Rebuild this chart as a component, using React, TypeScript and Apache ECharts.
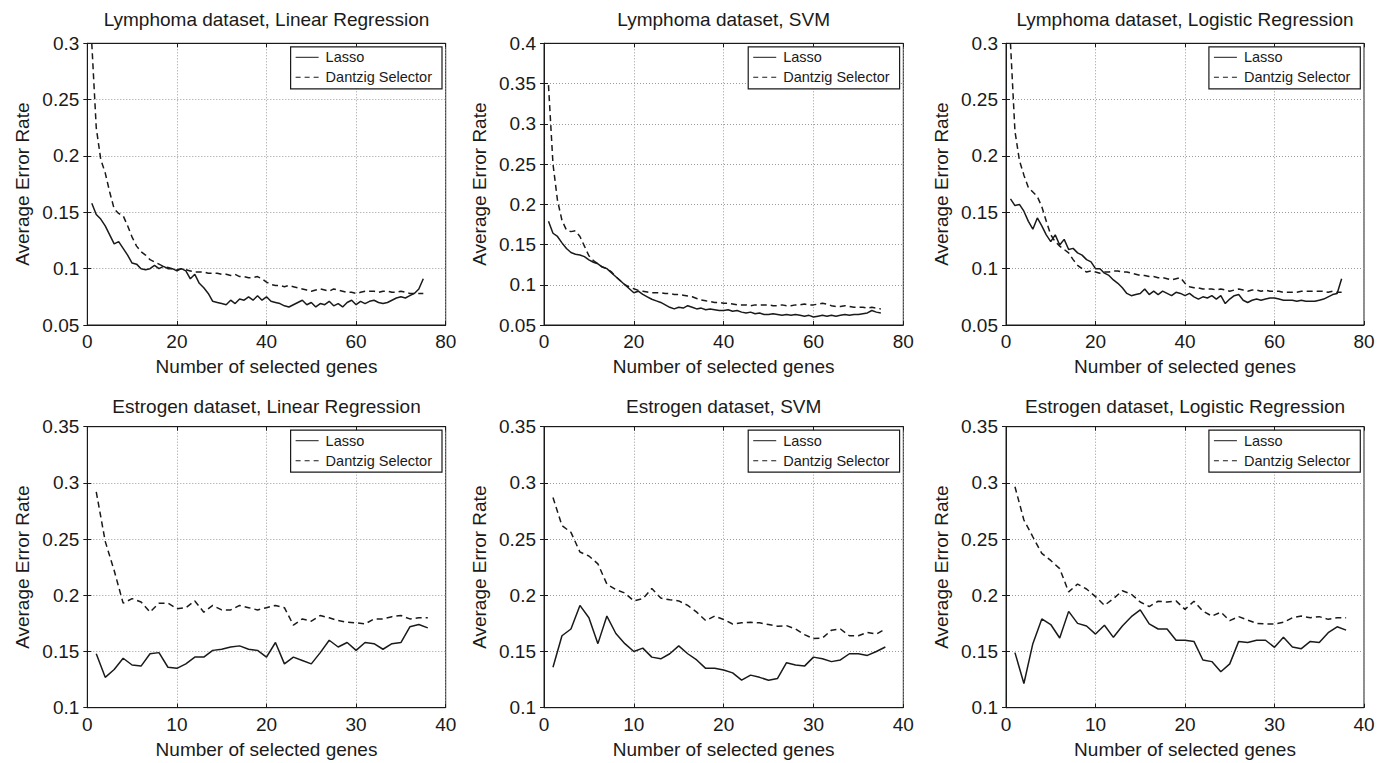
import React, { useEffect, useRef } from 'react';
import * as echarts from 'echarts';

// ---------- data ----------
const TOP_GENES = Array.from({ length: 75 }, (_, i) => i + 1);
const BOTTOM_GENES = Array.from({ length: 38 }, (_, i) => i + 1);

const LYM_LIN_LASSO = [
  0.158, 0.148, 0.144, 0.138, 0.13, 0.122, 0.124, 0.118, 0.112, 0.105,
  0.104, 0.1, 0.099, 0.1, 0.103, 0.1, 0.102, 0.1, 0.1, 0.098,
  0.1, 0.098, 0.091, 0.095, 0.087, 0.083, 0.078, 0.071, 0.07, 0.069,
  0.068, 0.072, 0.069, 0.073, 0.072, 0.075, 0.072, 0.076, 0.072, 0.075,
  0.071, 0.07, 0.069, 0.067, 0.066, 0.068, 0.07, 0.072, 0.068, 0.07,
  0.066, 0.069, 0.068, 0.071, 0.067, 0.069, 0.066, 0.07, 0.072, 0.068,
  0.071, 0.069, 0.071, 0.072, 0.07, 0.069, 0.07, 0.072, 0.074, 0.075,
  0.074, 0.076, 0.078, 0.082, 0.091,
];
const LYM_LIN_DANTZIG = [
  0.3, 0.225, 0.197, 0.185, 0.168, 0.153, 0.149, 0.147, 0.138, 0.128,
  0.12, 0.115, 0.112, 0.108, 0.106, 0.104, 0.102, 0.101, 0.1, 0.099,
  0.1, 0.099, 0.098, 0.097, 0.097, 0.097, 0.096, 0.096, 0.096, 0.095,
  0.095, 0.094, 0.095, 0.093, 0.093, 0.092, 0.092, 0.093, 0.091, 0.088,
  0.086, 0.085, 0.085, 0.084, 0.085, 0.084, 0.083, 0.082, 0.081, 0.08,
  0.081, 0.082, 0.081, 0.08, 0.082, 0.081, 0.08, 0.079, 0.079, 0.078,
  0.079, 0.08, 0.08, 0.08, 0.079, 0.08, 0.08, 0.079, 0.079, 0.08,
  0.079, 0.078, 0.078, 0.078, 0.078,
];
const LYM_SVM_LASSO = [
  0.179, 0.164, 0.16, 0.152, 0.145, 0.14, 0.138, 0.137, 0.135, 0.131,
  0.128, 0.126, 0.122, 0.12, 0.115, 0.11, 0.105, 0.1, 0.095, 0.09,
  0.092, 0.088, 0.085, 0.082, 0.08, 0.078, 0.075, 0.072, 0.07, 0.072,
  0.071, 0.074, 0.072, 0.07, 0.071, 0.069, 0.07, 0.069, 0.068, 0.068,
  0.069, 0.067, 0.068, 0.066, 0.065, 0.066, 0.064, 0.065, 0.063, 0.063,
  0.064, 0.063, 0.062, 0.063, 0.062, 0.063, 0.062, 0.061, 0.062, 0.06,
  0.061, 0.062, 0.061, 0.062, 0.061, 0.062, 0.063, 0.062, 0.063, 0.063,
  0.064, 0.065, 0.068, 0.066, 0.065,
];
const LYM_SVM_DANTZIG = [
  0.348, 0.25, 0.205, 0.18, 0.168, 0.166, 0.167, 0.16, 0.148, 0.136,
  0.13, 0.126, 0.122, 0.12, 0.116, 0.11, 0.105, 0.1, 0.097, 0.095,
  0.093, 0.092, 0.091, 0.09, 0.09, 0.09, 0.089, 0.089, 0.088, 0.088,
  0.087, 0.086, 0.085, 0.083, 0.081, 0.08, 0.079, 0.078, 0.078, 0.077,
  0.077, 0.076, 0.075, 0.075, 0.075, 0.074, 0.075, 0.075, 0.075, 0.075,
  0.074, 0.074, 0.075, 0.074, 0.074, 0.075, 0.075, 0.076, 0.075, 0.075,
  0.076, 0.077, 0.076, 0.074, 0.073, 0.073, 0.074, 0.073, 0.072, 0.072,
  0.072, 0.071, 0.072, 0.071, 0.07,
];
const LYM_LOG_LASSO = [
  0.162, 0.156, 0.157, 0.151, 0.142, 0.135, 0.145, 0.138, 0.13, 0.124,
  0.13, 0.121, 0.126, 0.117, 0.118, 0.114, 0.112, 0.108, 0.106, 0.1,
  0.1, 0.096, 0.094, 0.09, 0.087, 0.083, 0.078, 0.076, 0.077, 0.078,
  0.082, 0.077, 0.08, 0.077, 0.08, 0.078, 0.076, 0.079, 0.078, 0.076,
  0.078, 0.075, 0.073, 0.075, 0.074, 0.076, 0.073, 0.076, 0.069, 0.073,
  0.076, 0.077, 0.072, 0.07, 0.072, 0.073, 0.072, 0.073, 0.074, 0.074,
  0.073, 0.072, 0.072, 0.072, 0.071, 0.072, 0.071, 0.071, 0.071, 0.072,
  0.073, 0.075, 0.077, 0.078, 0.091,
];
const LYM_LOG_DANTZIG = [
  0.3, 0.222, 0.196, 0.183, 0.172, 0.168, 0.164, 0.155, 0.142, 0.13,
  0.124, 0.12, 0.117, 0.114, 0.108, 0.103, 0.1, 0.097, 0.098, 0.097,
  0.096, 0.097, 0.097, 0.098, 0.098, 0.097, 0.097, 0.096, 0.095, 0.094,
  0.094, 0.093, 0.093, 0.092, 0.092, 0.091, 0.09, 0.091, 0.092, 0.087,
  0.084, 0.083, 0.083, 0.082, 0.082, 0.082, 0.081, 0.082, 0.081, 0.08,
  0.081, 0.082, 0.081, 0.08, 0.081, 0.081, 0.08, 0.081, 0.08, 0.08,
  0.08, 0.079, 0.079, 0.079, 0.079, 0.08, 0.08, 0.08, 0.08, 0.08,
  0.08, 0.079, 0.08, 0.079, 0.079,
];

const EST_LIN_LASSO = [
  0.148, 0.127, 0.134, 0.144, 0.138, 0.137, 0.148, 0.149, 0.136, 0.135,
  0.139, 0.145, 0.145, 0.151, 0.152, 0.154, 0.155, 0.152, 0.151, 0.145,
  0.158, 0.139, 0.145, 0.142, 0.139, 0.149, 0.16, 0.154, 0.158, 0.151,
  0.158, 0.157, 0.152, 0.157, 0.158, 0.172, 0.174, 0.171,
];
const EST_LIN_DANTZIG = [
  0.292, 0.248, 0.222, 0.193, 0.197, 0.194, 0.185, 0.193, 0.193, 0.188,
  0.189, 0.195, 0.185, 0.191, 0.187, 0.187, 0.191, 0.189, 0.187, 0.189,
  0.191, 0.189, 0.1735, 0.179, 0.177, 0.182, 0.18, 0.1775, 0.176, 0.1755,
  0.1745, 0.179, 0.179, 0.181, 0.182, 0.179, 0.18, 0.18,
];
const EST_SVM_LASSO = [
  0.136, 0.164, 0.17, 0.191, 0.18, 0.157, 0.1815, 0.166, 0.157, 0.15,
  0.153, 0.145, 0.1435, 0.148, 0.155, 0.148, 0.1425, 0.135, 0.135, 0.1335,
  0.131, 0.1245, 0.129, 0.127, 0.1245, 0.126, 0.14, 0.138, 0.137, 0.145,
  0.1435, 0.141, 0.1425, 0.148, 0.148, 0.1465, 0.15, 0.154,
];
const EST_SVM_DANTZIG = [
  0.287, 0.262, 0.256, 0.2385, 0.235, 0.228, 0.21, 0.205, 0.202, 0.195,
  0.197, 0.206, 0.1975, 0.196, 0.195, 0.191, 0.185, 0.1775, 0.1815, 0.1785,
  0.1745, 0.1755, 0.176, 0.1755, 0.174, 0.1725, 0.173, 0.17, 0.165, 0.1615,
  0.162, 0.169, 0.17, 0.164, 0.164, 0.167, 0.1655, 0.17,
];
const EST_LOG_LASSO = [
  0.149, 0.1215, 0.157, 0.179, 0.174, 0.162, 0.1857, 0.175, 0.1727, 0.1655,
  0.1733, 0.1626, 0.1727, 0.181, 0.187, 0.1745, 0.17, 0.17, 0.16, 0.16,
  0.159, 0.1424, 0.141, 0.132, 0.139, 0.159, 0.158, 0.16, 0.16, 0.1537,
  0.1626, 0.154, 0.1525, 0.159, 0.158, 0.1667, 0.172, 0.169,
];
const EST_LOG_DANTZIG = [
  0.2966, 0.267, 0.252, 0.2373, 0.231, 0.2237, 0.203, 0.21, 0.2056, 0.1988,
  0.191, 0.197, 0.204, 0.201, 0.194, 0.19, 0.1947, 0.194, 0.195, 0.1875,
  0.1947, 0.186, 0.1815, 0.185, 0.1775, 0.181, 0.178, 0.175, 0.1745, 0.1745,
  0.176, 0.18, 0.1815, 0.18, 0.181, 0.1786, 0.18, 0.18,
];

const TITLES = [
  'Lymphoma dataset, Linear Regression',
  'Lymphoma dataset, SVM',
  'Lymphoma dataset, Logistic Regression',
  'Estrogen dataset, Linear Regression',
  'Estrogen dataset, SVM',
  'Estrogen dataset, Logistic Regression',
];
const SERIES_NAMES = ['Lasso', 'Dantzig Selector'];
const X_NAME = 'Number of selected genes';
const Y_NAME = 'Average Error Rate';

// ---------- layout ----------
const W = 1385;
const H = 763;
const FONT = '"Liberation Sans", Arial, Helvetica, sans-serif';
const INK = '#1a1a1a';

const COL_LEFT = [87.3, 544, 1006];
const COL_WIDTH = [358.4, 359.3, 358];
const ROW_TOP = [43.3, 426.7];
const ROW_HEIGHT = [281.7, 281];
const TITLE_TOP = [10, 397];

// legend icons: a solid stroke and a three-dash stroke
const ICON_SOLID = 'path://M0,0h23v1h-23z';
const ICON_DASHED = 'path://M0,0h5v1h-5zM9,0h5v1h-5zM18,0h5v1h-5z';

const PANELS = [
  { x: TOP_GENES, lasso: LYM_LIN_LASSO, dantzig: LYM_LIN_DANTZIG, yMin: 0.05, yMax: 0.3, xMax: 80, xInt: 20 },
  { x: TOP_GENES, lasso: LYM_SVM_LASSO, dantzig: LYM_SVM_DANTZIG, yMin: 0.05, yMax: 0.4, xMax: 80, xInt: 20 },
  { x: TOP_GENES, lasso: LYM_LOG_LASSO, dantzig: LYM_LOG_DANTZIG, yMin: 0.05, yMax: 0.3, xMax: 80, xInt: 20 },
  { x: BOTTOM_GENES, lasso: EST_LIN_LASSO, dantzig: EST_LIN_DANTZIG, yMin: 0.1, yMax: 0.35, xMax: 40, xInt: 10 },
  { x: BOTTOM_GENES, lasso: EST_SVM_LASSO, dantzig: EST_SVM_DANTZIG, yMin: 0.1, yMax: 0.35, xMax: 40, xInt: 10 },
  { x: BOTTOM_GENES, lasso: EST_LOG_LASSO, dantzig: EST_LOG_DANTZIG, yMin: 0.1, yMax: 0.35, xMax: 40, xInt: 10 },
];

function buildOption() {
  const grids: any[] = [];
  const titles: any[] = [];
  const legends: any[] = [];
  const xAxes: any[] = [];
  const yAxes: any[] = [];
  const series: any[] = [];

  const labelStyle = { fontSize: 19, color: INK, fontFamily: FONT };
  const splitLine = { show: true, lineStyle: { color: '#9a9a9a', type: [1, 2], width: 1 } };
  const axisLine = { show: true, lineStyle: { color: INK, width: 1 } };
  const tick = { show: true, inside: true, length: 4, lineStyle: { color: INK, width: 1 } };

  PANELS.forEach((p, i) => {
    const row = Math.floor(i / 3);
    const col = i % 3;
    const left = COL_LEFT[col];
    const width = COL_WIDTH[col];
    const top = ROW_TOP[row];
    const height = ROW_HEIGHT[row];

    grids.push({ left, top, width, height, show: true, borderColor: INK, borderWidth: 1, backgroundColor: '#fff' });

    titles.push({
      text: TITLES[i],
      left: left + width / 2,
      top: TITLE_TOP[row],
      textAlign: 'center',
      padding: 0,
      textStyle: { fontSize: 19, fontWeight: 'normal', color: INK, fontFamily: FONT },
    });

    legends.push({
      data: [
        { name: SERIES_NAMES[0], icon: ICON_SOLID },
        { name: SERIES_NAMES[1], icon: ICON_DASHED },
      ],
      orient: 'vertical',
      right: W - (left + width) + 3.7,
      top: top + 3.5,
      selectedMode: false,
      itemWidth: 23,
      itemHeight: 1.5,
      itemGap: 5,
      padding: [3, 10, 4, 5],
      borderColor: INK,
      borderWidth: 1.2,
      backgroundColor: '#fff',
      itemStyle: { color: INK, borderWidth: 0 },
      lineStyle: { width: 0 },
      textStyle: { fontSize: 14.5, color: INK, fontFamily: FONT, padding: [0, 0, 0, 2] },
    });

    xAxes.push({
      type: 'value', gridIndex: i, position: 'bottom',
      min: 0, max: p.xMax, interval: p.xInt,
      axisLine, axisTick: tick, splitLine,
      axisLabel: { ...labelStyle, margin: 7 },
      name: X_NAME, nameLocation: 'middle', nameGap: 32,
      nameTextStyle: { fontSize: 19, color: INK, fontFamily: FONT },
    });
    xAxes.push({
      type: 'value', gridIndex: i, position: 'top',
      min: 0, max: p.xMax, interval: p.xInt,
      axisLine, axisTick: tick, splitLine: { show: false }, axisLabel: { show: false },
    });
    yAxes.push({
      type: 'value', gridIndex: i, position: 'left',
      min: p.yMin, max: p.yMax, interval: 0.05,
      axisLine, axisTick: tick, splitLine,
      axisLabel: { ...labelStyle, margin: 8 },
      name: Y_NAME, nameLocation: 'middle', nameGap: 55,
      nameTextStyle: { fontSize: 19, color: INK, fontFamily: FONT },
    });
    yAxes.push({
      type: 'value', gridIndex: i, position: 'right',
      min: p.yMin, max: p.yMax, interval: 0.05,
      axisLine, axisTick: tick, splitLine: { show: false }, axisLabel: { show: false },
    });

    series.push({
      type: 'line', name: SERIES_NAMES[0],
      xAxisIndex: 2 * i, yAxisIndex: 2 * i,
      data: p.x.map((g, k) => [g, p.lasso[k]]),
      symbol: 'none', silent: true, clip: true,
      lineStyle: { color: INK, width: 1.5, type: 'solid' },
      itemStyle: { color: INK },
    });
    series.push({
      type: 'line', name: SERIES_NAMES[1],
      xAxisIndex: 2 * i, yAxisIndex: 2 * i,
      data: p.x.map((g, k) => [g, p.dantzig[k]]),
      symbol: 'none', silent: true, clip: true,
      lineStyle: { color: INK, width: 1.5, type: [6, 4] },
      itemStyle: { color: INK },
    });
  });

  return {
    animation: false,
    backgroundColor: '#fff',
    textStyle: { fontFamily: FONT },
    title: titles,
    legend: legends,
    grid: grids,
    xAxis: xAxes,
    yAxis: yAxes,
    series,
  };
}

export default function App() {
  const ref = useRef<HTMLDivElement>(null);
  useEffect(() => {
    if (!ref.current) return;
    const chart = echarts.init(ref.current, undefined, { renderer: 'svg' });
    chart.setOption(buildOption() as any);
    return () => chart.dispose();
  }, []);
  return (
    <div
      ref={ref}
      style={{ position: 'fixed', left: 0, top: 0, width: W, height: H, background: '#fff' }}
    />
  );
}
